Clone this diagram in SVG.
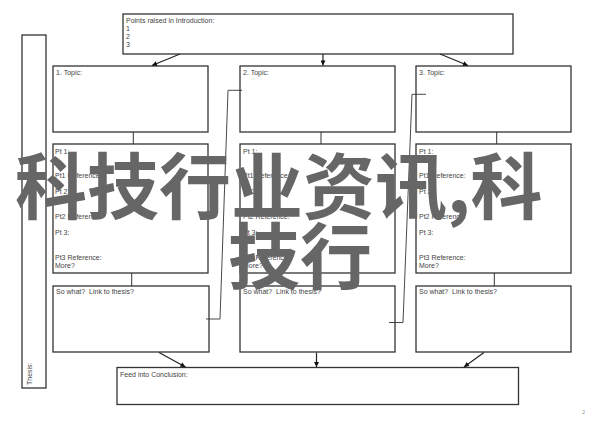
<svg xmlns="http://www.w3.org/2000/svg" width="600" height="424" viewBox="0 0 600 424">
<defs>
<style>
.box{fill:#fff;stroke:#333;stroke-width:1.3}
.t{font-family:"Liberation Sans",Arial,sans-serif;font-size:7px;fill:#444}
.c{stroke:#222;stroke-width:1.2;fill:none}
.j{stroke:#333;stroke-width:1;fill:none}
.b{stroke:#333;stroke-width:0.9;fill:none}
.wm{font-family:"Noto Sans CJK SC","Noto Sans CJK JP",sans-serif;font-size:72px;font-weight:bold;fill:#666}
</style>
<marker id="ah" viewBox="0 0 10 10" refX="10" refY="5" markerWidth="6" markerHeight="5" markerUnits="userSpaceOnUse" orient="auto">
<path d="M0,0 L10,5 L0,10 z" fill="#111"/>
</marker>
</defs>
<rect width="600" height="424" fill="#fff"/>

<g id="thesis">
<rect class="box" x="22" y="35" width="24" height="353"/>
<text class="t" transform="translate(32,385) rotate(-90)">Thesis:</text>
</g>

<g id="intro">
<rect class="box" x="123" y="14" width="390" height="40"/>
<text class="t" x="126" y="23">Points raised in Introduction:</text>
<text class="t" x="126" y="31">1</text>
<text class="t" x="126" y="39">2</text>
<text class="t" x="126" y="47">3</text>
</g>

<g id="topic1">
<rect class="box" x="53" y="66" width="155" height="66"/>
<text class="t" x="56" y="75">1. Topic:</text>
</g>
<g id="topic2">
<rect class="box" x="240" y="66" width="155" height="66"/>
<text class="t" x="243" y="75">2. Topic:</text>
</g>
<g id="topic3">
<rect class="box" x="416" y="66" width="155" height="66"/>
<text class="t" x="419" y="75">3. Topic:</text>
</g>

<g id="points1">
<rect class="box" x="53" y="144" width="155" height="129"/>
<text class="t" x="55" y="154">Pt 1:</text>
<text class="t" x="55" y="178">Pt1 Reference:</text>
<text class="t" x="55" y="194">Pt 2:</text>
<text class="t" x="55" y="219">Pt2 Reference:</text>
<text class="t" x="55" y="235">Pt 3:</text>
<text class="t" x="55" y="260">Pt3 Reference:</text>
<text class="t" x="55" y="268">More?</text>
</g>
<g id="points2">
<rect class="box" x="240" y="144" width="155" height="129"/>
<text class="t" x="243" y="154">Pt 1:</text>
<text class="t" x="243" y="178">Pt1 Reference:</text>
<text class="t" x="243" y="194">Pt 2:</text>
<text class="t" x="243" y="219">Pt2 Reference:</text>
<text class="t" x="243" y="235">Pt 3:</text>
<text class="t" x="243" y="260">Pt3 Reference:</text>
<text class="t" x="243" y="268">More?</text>
</g>
<g id="points3">
<rect class="box" x="416" y="144" width="155" height="129"/>
<text class="t" x="419" y="154">Pt 1:</text>
<text class="t" x="419" y="178">Pt1 Reference:</text>
<text class="t" x="419" y="194">Pt 2:</text>
<text class="t" x="419" y="219">Pt2 Reference:</text>
<text class="t" x="419" y="235">Pt 3:</text>
<text class="t" x="419" y="260">Pt3 Reference:</text>
<text class="t" x="419" y="268">More?</text>
</g>

<g id="sowhat1">
<rect class="box" x="53" y="286" width="156" height="66"/>
<text class="t" x="56" y="294" xml:space="preserve">So what?  Link to thesis?</text>
</g>
<g id="sowhat2">
<rect class="box" x="240" y="286" width="155" height="66"/>
<text class="t" x="243" y="294" xml:space="preserve">So what?  Link to thesis?</text>
</g>
<g id="sowhat3">
<rect class="box" x="416" y="286" width="155" height="66"/>
<text class="t" x="419" y="294" xml:space="preserve">So what?  Link to thesis?</text>
</g>

<g id="conclusion">
<rect class="box" x="117" y="367.5" width="401.5" height="37"/>
<text class="t" x="120" y="376.5">Feed into Conclusion:</text>
</g>

<g id="connectors">
<line class="c" x1="180" y1="54" x2="152" y2="65.5" marker-end="url(#ah)"/>
<line class="c" x1="323" y1="54" x2="323" y2="65.5" marker-end="url(#ah)"/>
<line class="c" x1="440" y1="54" x2="468" y2="65.5" marker-end="url(#ah)"/>
<line class="j" x1="133.3" y1="132" x2="133.3" y2="144"/>
<line class="j" x1="321" y1="132" x2="321" y2="144"/>
<line class="j" x1="496.7" y1="132" x2="496.7" y2="144"/>
<line class="j" x1="131.7" y1="273" x2="131.7" y2="286"/>
<line class="j" x1="319" y1="273" x2="319" y2="286"/>
<line class="j" x1="494.3" y1="273" x2="494.3" y2="286"/>
<polyline class="b" points="242,90.3 228,90.3 220,319 206,319"/>
<polyline class="b" points="426,94.3 412,94.3 403,322.5 389,322.5"/>
<line class="c" x1="159" y1="352.5" x2="185.5" y2="367" marker-end="url(#ah)"/>
<line class="c" x1="316.5" y1="352.5" x2="316.5" y2="367" marker-end="url(#ah)"/>
<line class="c" x1="484" y1="352.5" x2="464" y2="367" marker-end="url(#ah)"/>
</g>

<text x="582" y="414" style="font-family:'Liberation Serif',serif;font-size:6px;fill:#888">2</text>

<g id="watermark">
<text class="wm" x="15" y="213">科技行业资讯,科</text>
<text class="wm" x="228" y="283">技行</text>
</g>
</svg>
